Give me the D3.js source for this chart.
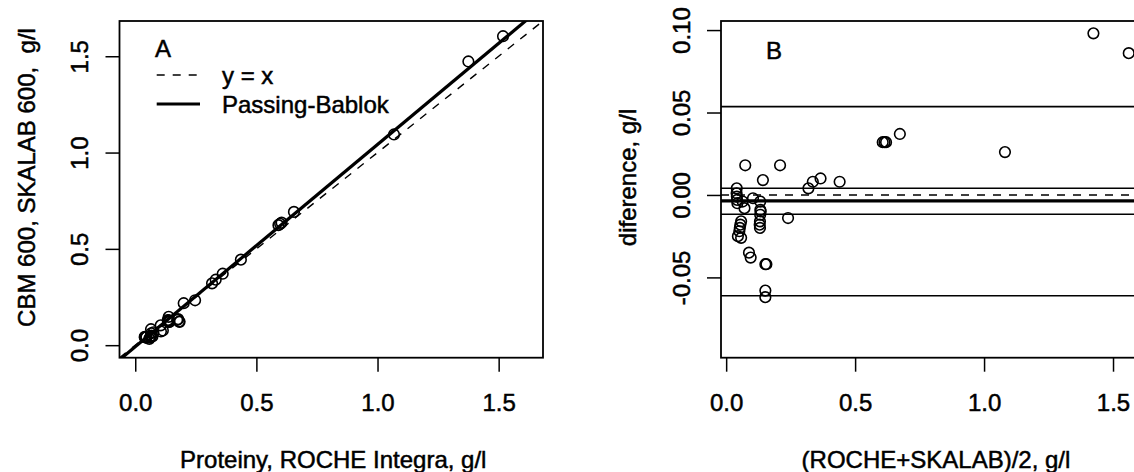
<!DOCTYPE html>
<html>
<head>
<meta charset="utf-8">
<script src="https://cdn.jsdelivr.net/npm/d3@7"></script>
<style>
  body { margin: 0; background: #fff; }
  svg text { font-family: "Liberation Sans", Arial, sans-serif; font-size: 24px; fill: #000;
             stroke: #000; stroke-width: 0.5px; }
</style>
</head>
<body>
<svg id="chart"></svg>
<script>
// proteins, g/l : ROCHE Integra (x) vs CBM 600 / SKALAB 600 (y)
var roche  = [1.375, 1.518, 1.068, 0.655, 0.604, 0.591, 0.598, 0.436, 0.361, 0.332,
              0.317, 0.200, 0.065, 0.138, 0.247, 0.105, 0.039, 0.040, 0.042, 0.044,
              0.046, 0.066, 0.075, 0.066, 0.064, 0.062, 0.058, 0.071, 0.063, 0.106,
              0.114, 0.173, 0.177, 0.181, 0.183, 0.134, 0.137, 0.138, 0.139, 0.139,
              0.141, 0.139];
var skalab = [1.473, 1.604, 1.094, 0.692, 0.636, 0.623, 0.630, 0.444, 0.371, 0.340,
              0.321, 0.218, 0.083, 0.147, 0.233, 0.103, 0.043, 0.041, 0.041, 0.041,
              0.041, 0.062, 0.067, 0.050, 0.046, 0.040, 0.033, 0.045, 0.043, 0.071,
              0.076, 0.131, 0.135, 0.123, 0.121, 0.130, 0.128, 0.126, 0.123, 0.121,
              0.121, 0.129];

var ticksA = [0, 0.5, 1.0, 1.5];
var ticksBx = [0, 0.5, 1.0, 1.5];
var ticksBy = [-0.05, 0, 0.05, 0.10];

// Passing-Bablok fit
var pbIntercept = -0.008;
var pbSlope = 1.05;

// Bland-Altman lines
var meanDiff = -0.0036;
var ciDiff = [0.0041, -0.0117];
var loaDiff = [0.0536, -0.0611];

var legendLabels = ["y = x", "Passing-Bablok"];

var width = 1134, height = 472;
var boxA = {l: 119.5, r: 543, t: 21, b: 357.7};
var boxB = {l: 721, r: 1145, t: 21, b: 357.7};

var svg = d3.select("#chart").attr("width", width).attr("height", height);
svg.append("rect").attr("width", width).attr("height", height).attr("fill", "#fff");

var xA = d3.scaleLinear().domain([-0.065, 1.683]).range([boxA.l, boxA.r]);
var yA = d3.scaleLinear().domain([-0.065, 1.683]).range([boxA.b, boxA.t]);
var xB = d3.scaleLinear().domain([-0.02, 1.624]).range([boxB.l, boxB.r]);
var yB = d3.scaleLinear().domain([-0.0987, 0.1055]).range([boxB.b, boxB.t]);

var defs = svg.append("defs");
[["clipA", boxA], ["clipB", boxB]].forEach(function(c) {
  defs.append("clipPath").attr("id", c[0]).append("rect")
    .attr("x", c[1].l).attr("y", c[1].t)
    .attr("width", c[1].r - c[1].l).attr("height", c[1].b - c[1].t);
});

function bottomAxis(x, box, ticks, fmt) {
  svg.append("g")
    .attr("transform", "translate(0," + box.b + ")")
    .call(d3.axisBottom(x).tickValues(ticks).tickSize(14).tickFormat(fmt))
    .call(function(g) { g.select(".domain").remove(); })
    .call(function(g) { g.selectAll(".tick line").attr("stroke", "#000").attr("stroke-width", 1.5); })
    .call(function(g) {
      g.selectAll(".tick text").attr("y", 53).attr("dy", null)
        .attr("font-size", 24).attr("font-family", null);
    });
}

function leftAxis(y, box, ticks, fmt) {
  svg.append("g")
    .attr("transform", "translate(" + box.l + ",0)")
    .call(d3.axisLeft(y).tickValues(ticks).tickSize(14).tickFormat(fmt))
    .call(function(g) { g.select(".domain").remove(); })
    .call(function(g) { g.selectAll(".tick line").attr("stroke", "#000").attr("stroke-width", 1.5); })
    .call(function(g) {
      g.selectAll(".tick text").attr("x", null).attr("dy", null)
        .attr("text-anchor", "middle")
        .attr("transform", "translate(-31.5,0) rotate(-90)")
        .attr("font-size", 24).attr("font-family", null);
    });
}

bottomAxis(xA, boxA, ticksA, function(d) { return d.toFixed(1); });
leftAxis(yA, boxA, ticksA, function(d) { return d.toFixed(1); });
bottomAxis(xB, boxB, ticksBx, function(d) { return d.toFixed(1); });
leftAxis(yB, boxB, ticksBy, function(d) { return d.toFixed(2); });

// ---- panel A ----
var gA = svg.append("g").attr("clip-path", "url(#clipA)");
var dom = xA.domain();
gA.append("line")
  .attr("x1", xA(dom[0])).attr("y1", yA(dom[0]))
  .attr("x2", xA(dom[1])).attr("y2", yA(dom[1]))
  .attr("stroke", "#000").attr("stroke-width", 1.4).attr("stroke-dasharray", "8,8");
gA.append("line")
  .attr("x1", xA(dom[0])).attr("y1", yA(pbIntercept + pbSlope * dom[0]))
  .attr("x2", xA(dom[1])).attr("y2", yA(pbIntercept + pbSlope * dom[1]))
  .attr("stroke", "#000").attr("stroke-width", 3.2);
gA.selectAll("circle").data(d3.range(roche.length)).join("circle")
  .attr("cx", function(i) { return xA(roche[i]); })
  .attr("cy", function(i) { return yA(skalab[i]); })
  .attr("r", 5.3).attr("fill", "none").attr("stroke", "#000").attr("stroke-width", 1.6);

svg.append("text").attr("x", 155).attr("y", 56.7).text("A");
var legend = svg.selectAll(".legend").data(legendLabels).join("g")
  .attr("class", "legend")
  .attr("transform", function(d, i) { return "translate(0," + (75 + i * 29) + ")"; });
legend.append("line")
  .attr("x1", 156.7).attr("x2", 200).attr("y1", 0).attr("y2", 0)
  .attr("stroke", "#000")
  .attr("stroke-width", function(d, i) { return i ? 3.2 : 1.4; })
  .attr("stroke-dasharray", function(d, i) { return i ? null : "8,8"; });
legend.append("text").attr("x", 222).attr("y", 8.5).text(function(d) { return d; });

svg.append("rect")
  .attr("x", boxA.l).attr("y", boxA.t)
  .attr("width", boxA.r - boxA.l).attr("height", boxA.b - boxA.t)
  .attr("fill", "none").attr("stroke", "#000").attr("stroke-width", 1.8);

svg.append("text").attr("x", (boxA.l + boxA.r) / 2 + 2).attr("y", 468)
  .attr("text-anchor", "middle").text("Proteiny, ROCHE Integra, g/l");
svg.append("text")
  .attr("transform", "translate(35,177.5) rotate(-90)")
  .attr("text-anchor", "middle").style("white-space", "pre")
  .text("CBM 600, SKALAB 600,  g/l");

// ---- panel B ----
var gB = svg.append("g").attr("clip-path", "url(#clipB)");
var bx = xB.domain();
function hline(v, w, dash) {
  gB.append("line")
    .attr("x1", xB(bx[0])).attr("x2", xB(bx[1]))
    .attr("y1", yB(v)).attr("y2", yB(v))
    .attr("stroke", "#000").attr("stroke-width", w)
    .attr("stroke-dasharray", dash);
}
hline(0, 1.4, "8,8");
loaDiff.forEach(function(v) { hline(v, 1.6, null); });
ciDiff.forEach(function(v) { hline(v, 1.6, null); });
hline(meanDiff, 3.2, null);

gB.selectAll("circle").data(d3.range(roche.length)).join("circle")
  .attr("cx", function(i) { return xB((roche[i] + skalab[i]) / 2); })
  .attr("cy", function(i) { return yB(skalab[i] - roche[i]); })
  .attr("r", 5.3).attr("fill", "none").attr("stroke", "#000").attr("stroke-width", 1.6);

svg.append("text").attr("x", 766).attr("y", 59).text("B");

svg.append("rect")
  .attr("x", boxB.l).attr("y", boxB.t)
  .attr("width", boxB.r - boxB.l).attr("height", boxB.b - boxB.t)
  .attr("fill", "none").attr("stroke", "#000").attr("stroke-width", 1.8);

svg.append("text").attr("x", 936).attr("y", 468)
  .attr("text-anchor", "middle").text("(ROCHE+SKALAB)/2, g/l");
svg.append("text")
  .attr("transform", "translate(635.5,177.5) rotate(-90)")
  .attr("text-anchor", "middle").text("diference, g/l");
</script>
</body>
</html>
